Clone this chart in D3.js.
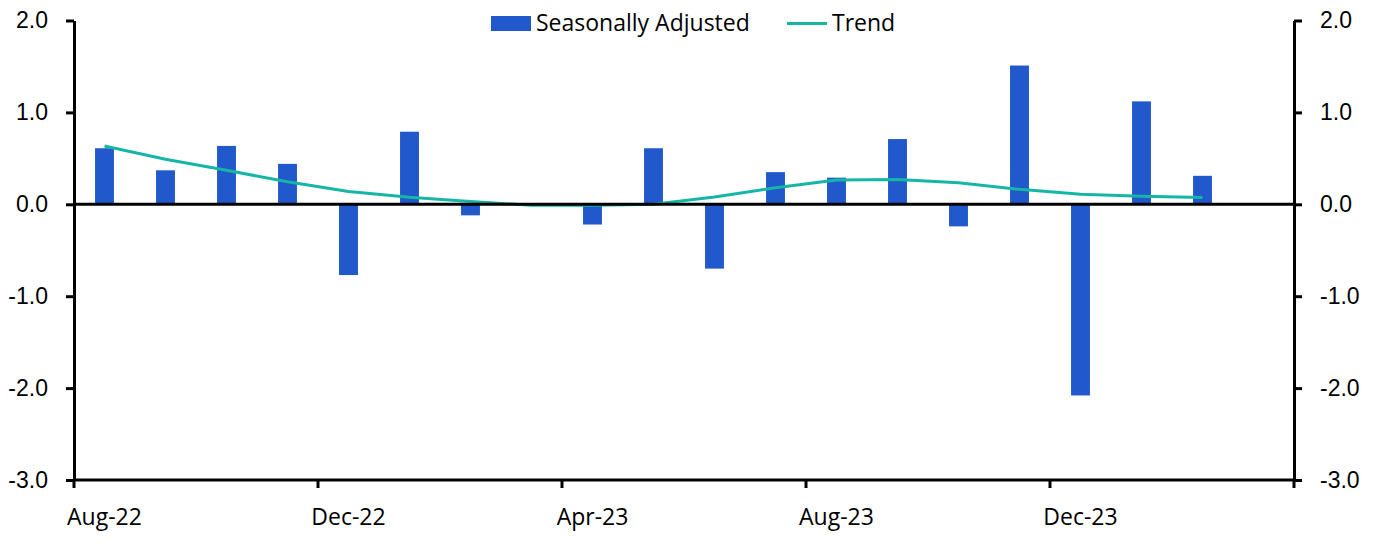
<!DOCTYPE html>
<html>
<head>
<meta charset="utf-8">
<script src="https://cdn.jsdelivr.net/npm/d3@7"></script>
<style>
  body { margin: 0; background: #fff; }
  svg { font-family: "Open Sans", "Noto Sans", sans-serif; }
  .axis text { font-size: 23px; fill: #000; }
  .axis path, .axis line { stroke: #000; stroke-width: 3; }
  .legend text { font-size: 23px; fill: #000; }
</style>
</head>
<body>
<script>
// months shown on the x axis (one band per month, last band empty)
var months = ["Aug-22","Sep-22","Oct-22","Nov-22","Dec-22","Jan-23","Feb-23","Mar-23","Apr-23","May-23",
              "Jun-23","Jul-23","Aug-23","Sep-23","Oct-23","Nov-23","Dec-23","Jan-24","Feb-24","Mar-24"];

// seasonally adjusted, % m/m
var seasAdj = [0.61, 0.37, 0.635, 0.44, -0.77, 0.79, -0.12, 0.0, -0.22, 0.61,
               -0.70, 0.35, 0.29, 0.71, -0.24, 1.51, -2.08, 1.12, 0.31];

// trend
var trend = [0.635, 0.49, 0.37, 0.245, 0.14, 0.077, 0.03, -0.01, -0.01, 0.0,
             0.08, 0.18, 0.265, 0.27, 0.235, 0.163, 0.11, 0.087, 0.075];

var labelMonths = ["Aug-22","Dec-22","Apr-23","Aug-23","Dec-23"];
var yTicks = [2, 1, 0, -1, -2, -3];

var width = 1375,
    height = 551;

var margin = {left: 74, right: 81, top: 20.5, bottom: 71};

var svg = d3.select("body")
    .append("svg")
    .attr("width", width)
    .attr("height", height);

var x = d3.scaleBand()
    .domain(months)
    .range([margin.left, width - margin.right])
    .paddingInner(0)
    .paddingOuter(0);

var y = d3.scaleLinear()
    .domain([-3, 2])
    .range([height - margin.bottom, margin.top]);

var barW = x.bandwidth() * 0.31;
var fmt = function(d){ return d.toFixed(1); }; // plain hyphen for negatives

//bars
svg.selectAll(".bar")
    .data(seasAdj)
    .enter()
    .append("rect")
    .attr("class", "bar")
    .attr("x", function(d, i){ return x(months[i]) + x.bandwidth() / 2 - barW / 2; })
    .attr("y", function(d){ return y(Math.max(0, d)); })
    .attr("width", barW)
    .attr("height", function(d){ return Math.abs(y(d) - y(0)); })
    .attr("fill", "#2159cc");

//trend line
var line = d3.line()
    .x(function(d, i){ return x(months[i]) + x.bandwidth() / 2; })
    .y(function(d){ return y(d); });

svg.append("path")
    .datum(trend)
    .attr("d", line)
    .attr("fill", "none")
    .attr("stroke", "#16b6a6")
    .attr("stroke-width", 3);

//zero line
svg.append("line")
    .attr("x1", margin.left)
    .attr("x2", width - margin.right)
    .attr("y1", y(0))
    .attr("y2", y(0))
    .attr("stroke", "#000")
    .attr("stroke-width", 3);

//left axis
svg.append("g")
    .attr("class", "axis")
    .attr("transform", "translate(" + margin.left + ",0)")
    .call(d3.axisLeft(y).tickValues(yTicks).tickFormat(fmt).tickSize(8).tickSizeOuter(0).tickPadding(18));

//right axis
svg.append("g")
    .attr("class", "axis")
    .attr("transform", "translate(" + (width - margin.right) + ",0)")
    .call(d3.axisRight(y).tickValues(yTicks).tickFormat(fmt).tickSize(8).tickSizeOuter(0).tickPadding(18));

//bottom axis: ticks on month boundaries, labels centred in the month
var tickPos = labelMonths.map(function(m){ return x(m); }).concat([width - margin.right]);
var xAxis = svg.append("g")
    .attr("class", "axis")
    .attr("transform", "translate(0," + y(-3) + ")");

xAxis.append("line")
    .attr("x1", margin.left)
    .attr("x2", width - margin.right);

xAxis.selectAll(".tick")
    .data(tickPos)
    .enter()
    .append("line")
    .attr("x1", function(d){ return d; })
    .attr("x2", function(d){ return d; })
    .attr("y1", 0)
    .attr("y2", 8);

xAxis.selectAll(".lab")
    .data(labelMonths)
    .enter()
    .append("text")
    .attr("x", function(d){ return x(d) + x.bandwidth() / 2; })
    .attr("y", 45)
    .attr("text-anchor", "middle")
    .text(function(d){ return d; });

//legend
var legend = svg.append("g").attr("class", "legend");
legend.append("rect")
    .attr("x", 491).attr("y", 16)
    .attr("width", 40).attr("height", 15)
    .attr("fill", "#2159cc");
legend.append("text")
    .attr("x", 536).attr("y", 31)
    .text("Seasonally Adjusted");
legend.append("line")
    .attr("x1", 787).attr("x2", 827)
    .attr("y1", 23.5).attr("y2", 23.5)
    .attr("stroke", "#16b6a6")
    .attr("stroke-width", 3);
legend.append("text")
    .attr("x", 832).attr("y", 31)
    .text("Trend");
</script>
</body>
</html>
